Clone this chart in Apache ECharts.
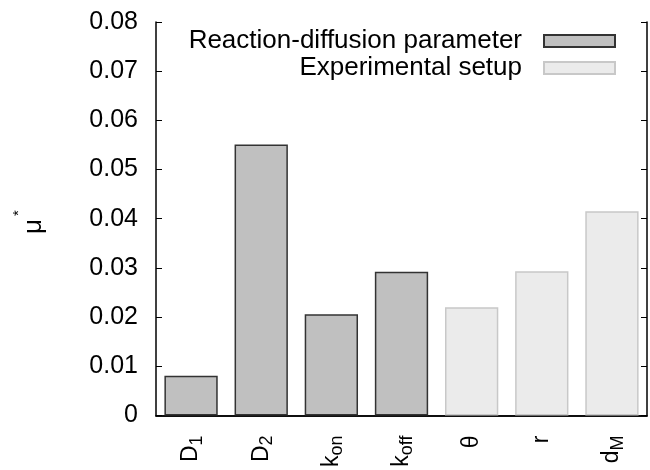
<!DOCTYPE html>
<html>
<head>
<meta charset="utf-8">
<script src="https://cdn.jsdelivr.net/npm/echarts@6/dist/echarts.min.js"></script>
<style>
html,body{margin:0;padding:0;background:#fff;}
#chart{width:650px;height:470px;}
</style>
</head>
<body>
<div id="chart"></div>
<script>
const categories = ['D_1', 'D_2', 'k_on', 'k_off', 'θ', 'r', 'd_M'];
const reactionValues = [0.0081, 0.0551, 0.0206, 0.0292, '-', '-', '-'];
const setupValues = ['-', '-', '-', '-', 0.0220, 0.0293, 0.0415];
const seriesNames = ['Reaction-diffusion parameter', 'Experimental setup'];
const yTitle = '{m|μ}{s|*}';
const yMin = 0, yMax = 0.08, yInterval = 0.01;

const FONT = '"Liberation Sans", Arial, Helvetica, sans-serif';

function catLabel(s) {
  const i = s.indexOf('_');
  if (i < 0) return '{m|' + s + '}';
  return '{m|' + s.slice(0, i) + '}{s|' + s.slice(i + 1) + '}';
}

const chart = echarts.init(document.getElementById('chart'), null, {renderer: 'canvas'});
chart.setOption({
  animation: false,
  backgroundColor: '#fff',
  textStyle: {fontFamily: FONT, color: '#000'},
  grid: {left: 156, right: 3, top: 22, bottom: 52, containLabel: false},
  graphic: [{
    type: 'text',
    x: 34,
    y: 222,
    rotation: Math.PI / 2,
    style: {
      text: yTitle,
      align: 'center',
      verticalAlign: 'middle',
      rich: {
        m: {fontFamily: FONT, fontSize: 26, fill: '#000', lineHeight: 45},
        s: {fontFamily: FONT, fontSize: 15, fill: '#000', verticalAlign: 'top', lineHeight: 15, padding: [0, 0, 0, 3]}
      }
    }
  }],
  legend: {
    orient: 'vertical',
    align: 'right',
    right: 34,
    top: 28,
    padding: 0,
    itemGap: 1,
    itemWidth: 71,
    itemHeight: 12,
    icon: 'rect',
    textStyle: {fontFamily: FONT, fontSize: 26, color: '#000', lineHeight: 26, padding: [0, 17, 0, 0]},
    data: seriesNames
  },
  xAxis: [{
    type: 'category',
    data: categories,
    position: 'bottom',
    axisLine: {lineStyle: {color: '#000', width: 1.5}},
    axisTick: {inside: true, alignWithLabel: true, length: 6, lineStyle: {color: '#000'}},
    axisLabel: {
      rotate: 90,
      margin: 20,
      interval: 0,
      formatter: catLabel,
      rich: {
        m: {fontFamily: FONT, fontSize: 23, color: '#000', lineHeight: 30},
        s: {fontFamily: FONT, fontSize: 18, color: '#000', verticalAlign: 'bottom', lineHeight: 17}
      }
    }
  }, {
    type: 'category',
    data: categories,
    position: 'top',
    axisLine: {lineStyle: {color: '#000', width: 1.5}},
    axisTick: {inside: true, alignWithLabel: true, length: 6, lineStyle: {color: '#000'}},
    axisLabel: {show: false}
  }],
  yAxis: [{
    type: 'value',
    min: yMin, max: yMax, interval: yInterval,
    position: 'left',
    axisLine: {show: true, lineStyle: {color: '#000', width: 1.5}},
    axisTick: {show: true, inside: true, length: 6, lineStyle: {color: '#000'}},
    splitLine: {show: false},
    axisLabel: {
      margin: 18,
      fontFamily: FONT, fontSize: 25, color: '#000',
      formatter: v => (v === 0 ? '0' : v.toFixed(2))
    }
  }, {
    type: 'value',
    min: yMin, max: yMax, interval: yInterval,
    position: 'right',
    axisLine: {show: true, lineStyle: {color: '#000', width: 1.5}},
    axisTick: {show: true, inside: true, length: 6, lineStyle: {color: '#000'}},
    splitLine: {show: false},
    axisLabel: {show: false}
  }],
  series: [{
    name: seriesNames[0],
    type: 'bar',
    data: reactionValues,
    barWidth: '76%',
    barGap: '-100%',
    itemStyle: {color: '#c0c0c0', borderColor: '#333', borderWidth: 1.5}
  }, {
    name: seriesNames[1],
    type: 'bar',
    data: setupValues,
    barWidth: '76%',
    barGap: '-100%',
    itemStyle: {color: '#ebebeb', borderColor: '#c8c8c8', borderWidth: 1.5}
  }]
});
</script>
</body>
</html>
